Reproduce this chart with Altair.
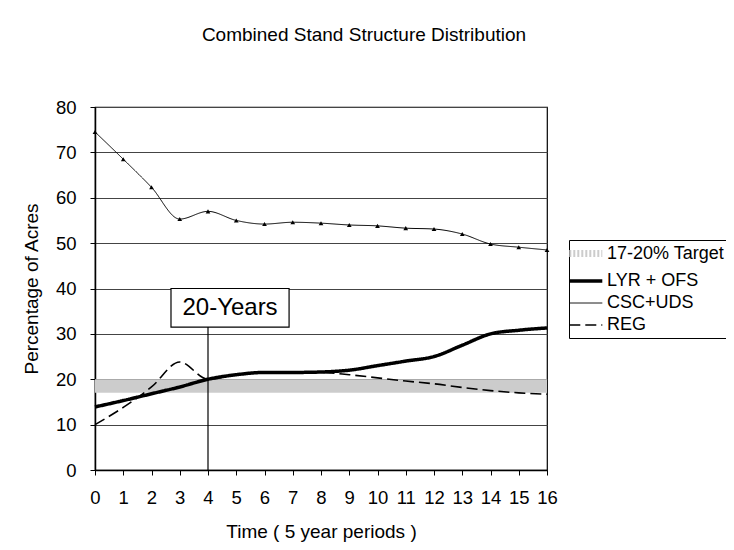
import altair as alt
import pandas as pd

# ---- data ----
periods = list(range(17))
lyr_ofs = [13.9, 15.3, 16.8, 18.3, 20.0, 21.0, 21.5, 21.5, 21.6, 22.0, 23.0,
           24.0, 25.0, 27.5, 30.0, 30.8, 31.3]
csc_uds = [74.5, 68.5, 62.3, 55.3, 57.0, 55.0, 54.2, 54.6, 54.4, 54.0, 53.8,
           53.3, 53.1, 52.0, 49.8, 49.1, 48.5]
reg = [10.0, 13.8, 18.3, 23.8, 20.0, 21.0, 21.5, 21.5, 21.5, 21.0, 20.3,
       19.6, 19.0, 18.2, 17.5, 17.0, 16.7]
target_low = 17
target_high = 20

series_names = ["17-20% Target", "LYR + OFS", "CSC+UDS", "REG"]
y_ticks = [0, 10, 20, 30, 40, 50, 60, 70, 80]

marker_period = 4
marker_label = "20-Years"
box_left, box_right = 2.69, 6.87
box_bottom, box_top = 31.5, 40.0

# ---- tables ----
rows = []
for p, v in zip(periods, lyr_ofs):
    rows.append({"period": p, "value": v, "series": series_names[1]})
for p, v in zip(periods, csc_uds):
    rows.append({"period": p, "value": v, "series": series_names[2]})
for p, v in zip(periods, reg):
    rows.append({"period": p, "value": v, "series": series_names[3]})
df = pd.DataFrame(rows)
target_df = pd.DataFrame({"period": periods, "value": [target_low] * len(periods),
                          "high": [target_high] * len(periods),
                          "series": [series_names[0]] * len(periods)})
csc_df = pd.DataFrame({"period": periods, "value": csc_uds})

FONT = "Liberation Sans"

legend = alt.Legend(
    title=None, orient="none", legendX=474, legendY=133,
    labelFontSize=18, labelFont=FONT, labelColor="black",
    symbolType="M-2.2,0L3.3,0", symbolSize=144, rowPadding=4,
    strokeColor="black", padding=4, labelOffset=15,
)

x_scale = alt.Scale(domain=[0, 16], nice=False, zero=False)
y_scale = alt.Scale(domain=[0, 80], nice=False)
x_axis = alt.Axis(tickCount=17, title="Time ( 5 year periods )",
                  grid=False, labelAngle=0, format="d", labelOverlap=False)
y_axis = alt.Axis(tickCount=8, title="Percentage of Acres", grid=True)

color_scale = alt.Scale(domain=series_names,
                        range=["#cccccc", "black", "black", "black"])

band = alt.Chart(target_df).mark_area(opacity=1).encode(
    x=alt.X("period:Q", scale=x_scale, axis=x_axis),
    y=alt.Y("value:Q", scale=y_scale, axis=y_axis),
    y2="high:Q",
    color=alt.Color("series:N", sort=series_names, scale=color_scale, legend=legend),
)

lines = alt.Chart(df).mark_line(interpolate="monotone").encode(
    x=alt.X("period:Q", scale=x_scale, axis=x_axis),
    y=alt.Y("value:Q", scale=y_scale, axis=y_axis),
    color=alt.Color("series:N", sort=series_names, scale=color_scale, legend=legend),
    strokeDash=alt.StrokeDash("series:N", sort=series_names,
                              scale=alt.Scale(domain=series_names,
                                              range=[[2, 2], [1, 0], [1, 0], [11, 5]]),
                              legend=legend),
    strokeWidth=alt.StrokeWidth("series:N", sort=series_names,
                                scale=alt.Scale(type="ordinal", domain=series_names,
                                                range=[7, 3.5, 1, 1.6]),
                                legend=legend),
)

markers = alt.Chart(csc_df).mark_point(shape="triangle-up", filled=True, size=22,
                                       color="black", opacity=1).encode(
    x=alt.X("period:Q", axis=x_axis), y=alt.Y("value:Q", axis=y_axis))

ann_df = pd.DataFrame({"x": [box_left], "x2": [box_right], "y": [box_bottom],
                       "y2": [box_top], "xm": [marker_period],
                       "xc": [(box_left + box_right) / 2],
                       "yc": [(box_bottom + box_top) / 2], "label": [marker_label],
                       "zero": [0]})

vline = alt.Chart(ann_df).mark_rule(color="black", strokeWidth=1.2).encode(
    x=alt.X("xm:Q", axis=x_axis), y=alt.Y("zero:Q", axis=y_axis), y2="y:Q")
box = alt.Chart(ann_df).mark_rect(fill="white", stroke="black", strokeWidth=1.2).encode(
    x=alt.X("x:Q", axis=x_axis), x2="x2:Q", y=alt.Y("y:Q", axis=y_axis), y2="y2:Q")
box_text = alt.Chart(ann_df).mark_text(font=FONT, fontSize=24, color="black",
                                       baseline="middle", align="center").encode(
    x=alt.X("xc:Q", axis=x_axis), y=alt.Y("yc:Q", axis=y_axis), text="label:N")

chart = alt.layer(band, lines, markers, vline, box, box_text).properties(
    width=452, height=363,
    autosize=alt.AutoSizeParams(type="none"),
    padding={"left": 87, "top": 99, "right": 179, "bottom": 80},
    title=alt.TitleParams("Combined Stand Structure Distribution", font=FONT,
                          fontSize=19, fontWeight="normal", color="black",
                          anchor="middle", frame="group", dx=43, offset=53),
).configure_view(stroke="black", strokeWidth=1.2).configure_axis(
    labelFont=FONT, titleFont=FONT, labelFontSize=18.5, titleFontSize=19,
    labelColor="black", titleColor="black", titleFontWeight="normal",
    domainColor="black", domainWidth=1.5, tickColor="black", tickSize=5,
    gridColor="#444444", gridWidth=1,
).configure_axisX(labelPadding=13, titlePadding=16, labelOverlap=False,
                  labelFlush=False).configure_axisY(
    labelPadding=14, titlePadding=14)

chart.save("out.html", embed_options={"renderer": "svg", "actions": False})
